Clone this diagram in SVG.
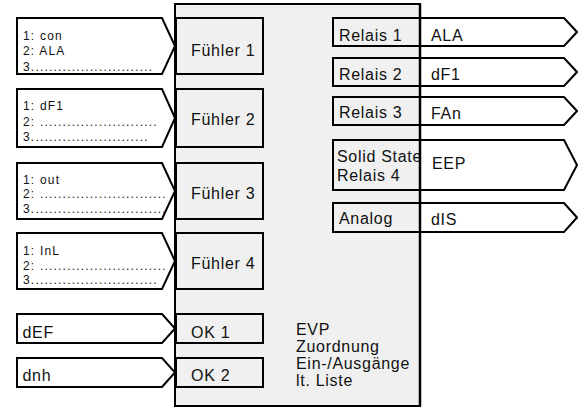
<svg xmlns="http://www.w3.org/2000/svg" width="578" height="408" viewBox="0 0 578 408">
<style>
.main{fill:#f0f0f0;stroke:#000;stroke-width:2}
.box{fill:#f0f0f0;stroke:#000;stroke-width:2}
.arr{fill:#fff;stroke:#000;stroke-width:2;stroke-linejoin:miter}
.t{font-family:"Liberation Sans",Arial,sans-serif;font-size:16px;letter-spacing:0.7px;fill:#111}
.s{font-family:"Liberation Sans",Arial,sans-serif;font-size:12px;letter-spacing:1.2px;fill:#111}
</style>
<rect width="578" height="408" fill="#fff"/>
<g id="evp">
<rect class="main" x="175" y="4" width="245" height="402"/>
<text class="t" x="296" y="334.5">EVP</text>
<text class="t" x="296" y="351.5">Zuordnung</text>
<text class="t" x="296" y="368.5">Ein-/Ausgänge</text>
<text class="t" x="296" y="386">lt. Liste</text>
</g>
<g id="connectors">
<g id="in1"><path class="arr" d="M17,18 H162 L175,46 L162,74 H17 Z"/>
<text class="s" x="23" y="39.5">1: con</text><text class="s" x="23" y="55">2: ALA</text><text class="s" x="23" y="70.5">3...........................</text></g>
<g id="in2"><path class="arr" d="M17,89 H162 L175,118 L162,147 H17 Z"/>
<text class="s" x="23" y="110">1: dF1</text><text class="s" x="23" y="125.5">2: ..........................</text><text class="s" x="23" y="140.5">3..........................</text></g>
<g id="in3"><path class="arr" d="M17,163 H162 L175,191 L162,219 H17 Z"/>
<text class="s" x="23" y="183.5">1: out</text><text class="s" x="23" y="198">2: ............................</text><text class="s" x="23" y="213">3..............................</text></g>
<g id="in4"><path class="arr" d="M17,233 H162 L175,261 L162,289 H17 Z"/>
<text class="s" x="23" y="255">1: InL</text><text class="s" x="23" y="270">2: ............................</text><text class="s" x="23" y="284">3............................</text></g>
<g id="in5"><path class="arr" d="M17,314 H162 L175,328.5 L162,343 H17 Z"/>
<text class="t" x="22.5" y="337.5">dEF</text></g>
<g id="in6"><path class="arr" d="M17,358 H162 L175,372.5 L162,387 H17 Z"/>
<text class="t" x="22.5" y="380.5">dnh</text></g>
<g id="out1"><path class="arr" d="M420,18 H564 L577,32 L564,46 H420 Z"/>
<text class="t" x="431" y="41">ALA</text></g>
<g id="out2"><path class="arr" d="M420,58 H564 L577,72 L564,86 H420 Z"/>
<text class="t" x="431" y="80">dF1</text></g>
<g id="out3"><path class="arr" d="M420,97 H564 L577,111 L564,125 H420 Z"/>
<text class="t" x="431" y="118.5">FAn</text></g>
<g id="out4"><path class="arr" d="M420,140 H564 L577,165 L564,190 H420 Z"/>
<text class="t" x="432" y="168.5">EEP</text></g>
<g id="out5"><path class="arr" d="M420,203 H564 L577,217.5 L564,232 H420 Z"/>
<text class="t" x="431" y="225">dIS</text></g>
</g>
<g id="fuehler1"><rect class="box" x="176" y="18" width="87" height="56"/><text class="t" x="191" y="55.5">Fühler 1</text></g>
<g id="fuehler2"><rect class="box" x="176" y="89" width="87" height="58"/><text class="t" x="191" y="125">Fühler 2</text></g>
<g id="fuehler3"><rect class="box" x="176" y="163" width="87" height="56"/><text class="t" x="191" y="198.5">Fühler 3</text></g>
<g id="fuehler4"><rect class="box" x="176" y="233" width="87" height="56"/><text class="t" x="191" y="269">Fühler 4</text></g>
<g id="ok1"><rect class="box" x="176" y="314" width="87" height="29"/><text class="t" x="191" y="337.5">OK 1</text></g>
<g id="ok2"><rect class="box" x="176" y="358" width="87" height="29"/><text class="t" x="191" y="381">OK 2</text></g>
<g id="relais1"><rect class="box" x="333" y="18" width="87" height="28"/><text class="t" x="339" y="41">Relais 1</text></g>
<g id="relais2"><rect class="box" x="333" y="58" width="87" height="28"/><text class="t" x="339" y="80">Relais 2</text></g>
<g id="relais3"><rect class="box" x="333" y="97" width="87" height="28"/><text class="t" x="339" y="117.5">Relais 3</text></g>
<g id="relais4"><rect class="box" x="333" y="140" width="87" height="50"/><text class="t" x="337" y="162">Solid State</text><text class="t" x="337" y="181">Relais 4</text></g>
<g id="analog"><rect class="box" x="333" y="203" width="87" height="29"/><text class="t" x="339" y="224">Analog</text></g>
<line x1="420" y1="4" x2="420" y2="406" stroke="#000" stroke-width="2.5"/>
<line x1="175" y1="4" x2="175" y2="406" stroke="#000" stroke-width="2"/>
</svg>
